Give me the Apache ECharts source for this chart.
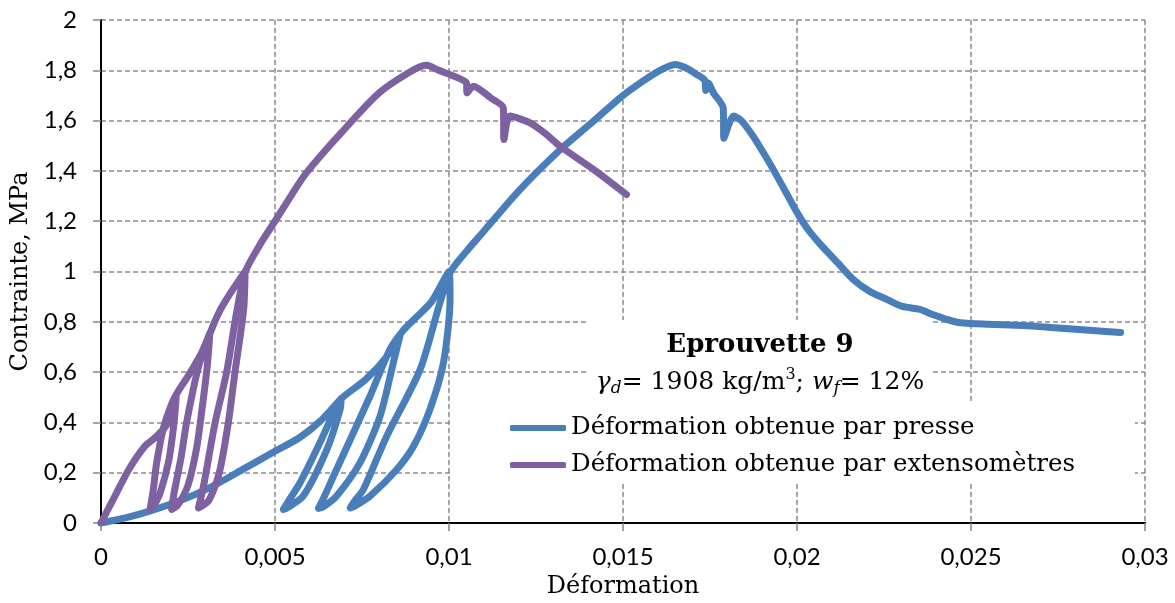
<!DOCTYPE html>
<html>
<head>
<meta charset="utf-8">
<script src="https://cdn.jsdelivr.net/npm/echarts@6/dist/echarts.min.js"></script>
<style>
  html, body { margin: 0; padding: 0; background: #fff; }
  #chart { width: 1175px; height: 603px; }
</style>
</head>
<body>
<div id="chart"></div>
<script>
// ticks
var xTickLabels = ['0', '0,005', '0,01', '0,015', '0,02', '0,025', '0,03'];
var yTickLabels = ['0', '0,2', '0,4', '0,6', '0,8', '1', '1,2', '1,4', '1,6', '1,8', '2'];
var seriesNames = ['Déformation obtenue par presse', 'Déformation obtenue par extensomètres'];

// déformation obtenue par presse : [déformation, contrainte MPa]
var presseData = [
    [0, 0], [0.0007, 0.02], [0.0014, 0.047], [0.0023, 0.09], [0.0032, 0.146], [0.0041, 0.215],
    [0.005, 0.285], [0.0057, 0.339], [0.0063, 0.405], [0.0069, 0.495],
    // cycle 1
    [0.00687, 0.451], [0.00649, 0.292], [0.00581, 0.107], [0.00535, 0.06], [0.00524, 0.054],
    [0.0054, 0.09], [0.00572, 0.16], [0.00629, 0.319], [0.00677, 0.464], [0.00695, 0.50],
    [0.0076, 0.57], [0.0082, 0.66], [0.0086, 0.75],
    // cycle 2
    [0.0084, 0.637], [0.00802, 0.425], [0.00744, 0.239], [0.00677, 0.107], [0.0064, 0.065], [0.00625, 0.058],
    [0.0064, 0.10], [0.00668, 0.186], [0.00773, 0.504], [0.0083, 0.69], [0.00865, 0.76],
    [0.009, 0.81], [0.0095, 0.88], [0.01, 1.0],
    // cycle 3
    [0.01003, 0.89], [0.00984, 0.637], [0.00945, 0.451], [0.00898, 0.305], [0.0085, 0.213], [0.00773, 0.107],
    [0.0073, 0.068], [0.00716, 0.06],
    [0.0073, 0.09], [0.00754, 0.133], [0.00821, 0.345], [0.00917, 0.61], [0.00974, 0.876], [0.01005, 1.0],
    [0.0105, 1.08], [0.011, 1.16], [0.012, 1.32], [0.0132, 1.485], [0.014, 1.58], [0.015, 1.70],
    [0.0155, 1.75], [0.016, 1.795], [0.0165, 1.823], [0.0168, 1.81], [0.0171, 1.785], [0.01735, 1.76],
    [0.01738, 1.72], [0.01745, 1.75], [0.0176, 1.71], [0.01788, 1.65], [0.0179, 1.53], [0.01818, 1.618],
    [0.0184, 1.60], [0.01874, 1.538], [0.019, 1.48], [0.0193, 1.41], [0.0197, 1.31], [0.02, 1.235],
    [0.0203, 1.17], [0.02066, 1.11], [0.0212, 1.03], [0.02162, 0.968], [0.0221, 0.92], [0.02258, 0.889],
    [0.023, 0.862], [0.02353, 0.849], [0.0239, 0.829], [0.0243, 0.81], [0.0247, 0.796], [0.0255, 0.79],
    [0.0265, 0.785], [0.0275, 0.775], [0.0285, 0.765], [0.0293, 0.757]
];

// déformation obtenue par extensomètres
var extensoData = [
    [0, 0], [0.0004, 0.107], [0.0008, 0.213], [0.00126, 0.305], [0.00155, 0.339], [0.0019, 0.392], [0.00216, 0.50],
    // cycle 1
    [0.0021, 0.40], [0.00195, 0.25], [0.0017, 0.12], [0.0015, 0.065], [0.00141, 0.054],
    [0.0015, 0.13], [0.0016, 0.24], [0.0018, 0.38], [0.00205, 0.48], [0.0022, 0.52],
    [0.0025, 0.584], [0.0029, 0.68], [0.00313, 0.756],
    // cycle 2
    [0.00305, 0.62], [0.0029, 0.45], [0.00275, 0.30], [0.0025, 0.15], [0.0022, 0.07], [0.00203, 0.054],
    [0.0021, 0.12], [0.0023, 0.26], [0.00246, 0.40], [0.0028, 0.62], [0.00315, 0.76],
    [0.0034, 0.84], [0.0037, 0.91], [0.00414, 1.0],
    // cycle 3
    [0.0041, 0.85], [0.00385, 0.60], [0.00366, 0.40], [0.0034, 0.20], [0.0031, 0.09], [0.0028, 0.06],
    [0.00295, 0.15], [0.00328, 0.40], [0.00361, 0.60], [0.0039, 0.84], [0.00415, 1.0],
    [0.0046, 1.114], [0.005, 1.20], [0.0055, 1.31], [0.0059, 1.392], [0.0069, 1.551], [0.008, 1.711],
    [0.009, 1.803], [0.00936, 1.82], [0.0097, 1.80], [0.01003, 1.783], [0.0105, 1.75], [0.01052, 1.71],
    [0.0107, 1.737], [0.0112, 1.69], [0.01156, 1.651], [0.01158, 1.525], [0.01175, 1.618], [0.01233, 1.591],
    [0.0128, 1.545], [0.01319, 1.498], [0.01415, 1.406], [0.0151, 1.306]
];

var serif = '"DejaVu Serif", serif';
var sans = 'Lato, "Open Sans", sans-serif';

var myChart = echarts.init(document.getElementById('chart'));

var option = {
    animation: false,
    backgroundColor: '#fff',
    grid: { left: 101, right: 30, top: 20, bottom: 80, outerBoundsMode: 'none' },
    legend: {
        data: seriesNames,
        orient: 'vertical',
        left: 505,
        top: 409,
        icon: 'roundRect',
        itemWidth: 56,
        itemHeight: 6,
        itemGap: 9,
        textStyle: { fontFamily: serif, fontSize: 24.5, color: '#000', lineHeight: 28 }
    },
    xAxis: [{
        type: 'value',
        min: 0, max: 0.03, interval: 0.005,
        name: 'Déformation',
        nameLocation: 'middle',
        nameGap: 52,
        nameTextStyle: { fontFamily: serif, fontSize: 24, color: '#000' },
        axisLine: { lineStyle: { color: '#868686', width: 2 } },
        axisTick: { show: true, length: 8, lineStyle: { color: '#868686', width: 1.5 } },
        axisLabel: {
            margin: 22, fontFamily: sans, fontSize: 24, color: '#000',
            formatter: function (v) { return xTickLabels[Math.round(v / 0.005)]; }
        },
        splitLine: { lineStyle: { color: '#8a8a8a', width: 1.5, type: [5, 3] } }
    }, {
        type: 'value', position: 'top',
        min: 0, max: 0.03, interval: 0.005,
        axisLine: { show: true, lineStyle: { color: '#000', width: 2 } },
        axisTick: { show: false }, axisLabel: { show: false }, splitLine: { show: false }
    }],
    yAxis: [{
        type: 'value',
        min: 0, max: 2, interval: 0.2,
        name: 'Contrainte, MPa',
        nameLocation: 'middle',
        nameGap: 66,
        nameTextStyle: { fontFamily: serif, fontSize: 24, color: '#000' },
        axisLine: { show: true, lineStyle: { color: '#868686', width: 2 } },
        axisTick: { show: true, length: 8, lineStyle: { color: '#868686', width: 1.5 } },
        axisLabel: {
            margin: 24, fontFamily: sans, fontSize: 24, color: '#000',
            formatter: function (v) { return yTickLabels[Math.round(v / 0.2)]; }
        },
        splitLine: { lineStyle: { color: '#8a8a8a', width: 1.5, type: [5, 3] } }
    }, {
        type: 'value', position: 'right',
        min: 0, max: 2, interval: 0.2,
        axisLine: { show: true, lineStyle: { color: '#000', width: 2 } },
        axisTick: { show: false }, axisLabel: { show: false }, splitLine: { show: false }
    }],
    graphic: [
        // white boxes behind the annotation and legend (hide the grid lines)
        { type: 'rect', z: 1, silent: true, shape: { x: 587, y: 320, width: 346, height: 81 }, style: { fill: '#fff' } },
        { type: 'rect', z: 1, silent: true, shape: { x: 453, y: 404, width: 682, height: 78 }, style: { fill: '#fff' } },
        {
            type: 'text', z: 5, x: 760, y: 345,
            style: {
                text: 'Eprouvette 9', align: 'center', verticalAlign: 'middle',
                font: 'bold 26px ' + serif, fill: '#000'
            }
        },
        {
            type: 'text', z: 5, x: 760, y: 382,
            style: {
                text: '{i|γ}{s|d}{n|= 1908 kg/m}{p|3}{n|; }{i|w}{s|f}{n|= 12%}',
                align: 'center', verticalAlign: 'middle', fill: '#000',
                rich: {
                    n: { fontFamily: serif, fontSize: 25, lineHeight: 30 },
                    i: { fontFamily: serif, fontStyle: 'italic', fontSize: 25, lineHeight: 30 },
                    s: { fontFamily: serif, fontStyle: 'italic', fontSize: 17, lineHeight: 16, verticalAlign: 'bottom' },
                    p: { fontFamily: serif, fontSize: 16, lineHeight: 20, verticalAlign: 'top' }
                }
            }
        }
    ],
    series: [{
        name: seriesNames[0],
        type: 'line',
        data: presseData,
        showSymbol: false,
        symbol: 'none',
        smooth: 0.25,
        color: '#4a7ebb',
        lineStyle: { width: 7, cap: 'round', join: 'round' },
        z: 2
    }, {
        name: seriesNames[1],
        type: 'line',
        data: extensoData,
        showSymbol: false,
        symbol: 'none',
        smooth: 0.25,
        color: '#7e61a0',
        lineStyle: { width: 7, cap: 'round', join: 'round' },
        z: 3
    }]
};

myChart.setOption(option);
</script>
</body>
</html>
